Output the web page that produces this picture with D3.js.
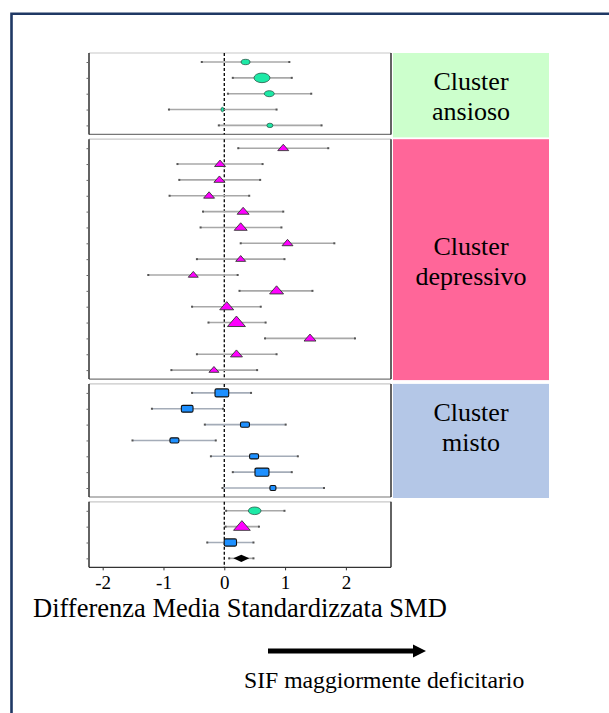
<!DOCTYPE html>
<html><head><meta charset="utf-8">
<script src="https://cdn.jsdelivr.net/npm/d3@7"></script>
<style>html,body{margin:0;padding:0;background:#fff;} svg{display:block}</style>
</head><body><svg id="c" width="609" height="713"></svg>
<script>
// ---------- DATA ----------
const clusterNames = ["Cluster ansioso", "Cluster depressivo", "Cluster misto", "Complessivo"];
const clusterLabels = [["Cluster", "ansioso"], ["Cluster", "depressivo"], ["Cluster", "misto"]];
const clusterColors = ["#ccffcc", "#ff6699", "#b4c7e7"];

const ansiosoSMD    = [0.35, 0.62, 0.74, -0.03, 0.75];
const ansiosoLow    = [-0.37, 0.14, 0.06, -0.91, -0.09];
const ansiosoHigh   = [1.07, 1.11, 1.43, 0.86, 1.60];
const ansiosoWeight = [20, 64, 25, 2, 9];

const depressivoSMD    = [0.97, -0.07, -0.08, -0.25, 0.31, 0.27, 1.04, 0.27, -0.51, 0.86, 0.04, 0.20, 1.41, 0.20, -0.17];
const depressivoLow    = [0.23, -0.77, -0.74, -0.90, -0.35, -0.39, 0.27, -0.45, -1.25, 0.25, -0.53, -0.26, 0.67, -0.45, -0.87];
const depressivoHigh   = [1.71, 0.63, 0.59, 0.41, 0.97, 0.94, 1.81, 0.99, 0.22, 1.45, 0.60, 0.68, 2.15, 0.86, 0.54];
const depressivoWeight = [30, 30, 30, 30, 36, 42, 30, 25, 25, 49, 49, 81, 36, 36, 25];

const mistoSMD    = [-0.04, -0.61, 0.34, -0.82, 0.49, 0.62, 0.80];
const mistoLow    = [-0.53, -1.19, -0.32, -1.51, -0.22, 0.14, -0.03];
const mistoHigh   = [0.44, -0.02, 1.01, -0.14, 1.21, 1.11, 1.64];
const mistoWeight = [47, 34, 20, 20, 20, 49, 9];

const pooledSMD    = [0.50, 0.29, 0.10, 0.28];
const pooledLow    = [0.03, 0.02, -0.28, 0.08];
const pooledHigh   = [0.99, 0.57, 0.48, 0.48];
const pooledWeight = [40, 70, 38, 64];
const pooledShape  = ["ellipse", "triangle", "rect", "diamond"];

const xTicks = [-2, -1, 0, 1, 2];
const xTitle = "Differenza Media Standardizzata SMD";
const arrowLabel = "SIF maggiormente deficitario";

// ---------- BUILD ----------
function rows(smd, lo, hi, w, shape) {
  return smd.map((v, i) => ({ smd: v, lo: lo[i], hi: hi[i], w: w[i],
    shape: Array.isArray(shape) ? shape[i] : shape }));
}
const panels = [
  { name: clusterNames[0], rows: rows(ansiosoSMD, ansiosoLow, ansiosoHigh, ansiosoWeight, "ellipse") },
  { name: clusterNames[1], rows: rows(depressivoSMD, depressivoLow, depressivoHigh, depressivoWeight, "triangle") },
  { name: clusterNames[2], rows: rows(mistoSMD, mistoLow, mistoHigh, mistoWeight, "rect") },
  { name: clusterNames[3], rows: rows(pooledSMD, pooledLow, pooledHigh, pooledWeight, pooledShape) }
];
const fills = { ellipse: "#1de9a6", triangle: "#ff00ff", rect: "#1e90ff", diamond: "#000000" };

const svg = d3.select("#c");
const SERIF = "'Liberation Serif','Times New Roman',serif";

// outer frame
svg.append("path").attr("d", "M11.5,713 V13.7 H609")
  .attr("fill", "none").attr("stroke", "#1f3864").attr("stroke-width", 2.6);

const x = d3.scaleLinear().domain([-2.225, 2.742]).range([89, 391]);
const size = d3.scaleSqrt().domain([0, 100]).range([0, 20]);

const step = 15.85, pad = 9, gap = 4.8;
let curTop = 53;
panels.forEach(p => {
  p.top = curTop;
  p.bottom = curTop + 2 * pad + (p.rows.length - 1) * step;
  p.y = d3.scaleLinear().domain([0, p.rows.length - 1]).range([curTop + pad, p.bottom - pad]);
  curTop = p.bottom + gap;
});

panels.forEach((p, pi) => {
  const g = svg.append("g");
  g.append("rect").attr("x", x.range()[0]).attr("y", p.top)
    .attr("width", x.range()[1] - x.range()[0]).attr("height", p.bottom - p.top)
    .attr("fill", "#fff");
  g.append("line").attr("x1", 89).attr("x2", 391).attr("y1", p.top).attr("y2", p.top)
    .attr("stroke", "#c8c8c8").attr("stroke-width", 1.2);
  g.append("line").attr("x1", 89).attr("x2", 391).attr("y1", p.bottom).attr("y2", p.bottom)
    .attr("stroke", pi === panels.length - 1 ? "#333" : "#777").attr("stroke-width", 1.2);
  [89, 391].forEach(xx => g.append("line").attr("x1", xx).attr("x2", xx)
    .attr("y1", p.top).attr("y2", p.bottom).attr("stroke", "#222").attr("stroke-width", 1.4));

  const ya = d3.axisLeft(p.y).tickValues(d3.range(p.rows.length)).tickSize(2.5).tickFormat("");
  const ag = g.append("g").attr("transform", "translate(89,0)").call(ya);
  ag.select(".domain").remove();
  ag.selectAll(".tick line").attr("stroke", "#666").attr("stroke-width", 1);

  g.append("line").attr("x1", x(0)).attr("x2", x(0)).attr("y1", p.top).attr("y2", p.bottom)
    .attr("stroke", "#000").attr("stroke-width", 1.3).attr("stroke-dasharray", "3,2");

  p.rows.forEach((r, i) => {
    const yy = p.y(i);
    g.append("line").attr("x1", x(r.lo)).attr("x2", x(r.hi)).attr("y1", yy).attr("y2", yy)
      .attr("stroke", r.shape === "rect" ? "#a4acb8" : "#a8a8a8").attr("stroke-width", 1.6);
    [r.lo, r.hi].forEach(v => g.append("rect").attr("x", x(v) - 1).attr("y", yy - 1)
      .attr("width", 2).attr("height", 2).attr("fill", "#555"));
  });

  p.rows.forEach((r, i) => {
    const cx = x(r.smd), cy = p.y(i), w = size(r.w);
    const col = fills[r.shape];
    if (r.shape === "ellipse") {
      g.append("ellipse").attr("cx", cx).attr("cy", cy).attr("rx", w / 2)
        .attr("ry", Math.max(2.2, w * 0.3)).attr("fill", col).attr("stroke", "#2a5a4a").attr("stroke-width", 0.8);
    } else if (r.shape === "triangle") {
      const h = w * 0.58;
      g.append("path").attr("d", `M${cx},${cy - h * 0.62} L${cx - w / 2},${cy + h * 0.38} L${cx + w / 2},${cy + h * 0.38} Z`)
        .attr("fill", col).attr("stroke", "#333").attr("stroke-width", 0.9);
    } else if (r.shape === "rect") {
      const h = Math.max(5, w * 0.58);
      g.append("rect").attr("x", cx - w / 2).attr("y", cy - h / 2).attr("width", w).attr("height", h)
        .attr("rx", 1.5).attr("fill", col).attr("stroke", "#111").attr("stroke-width", 1.1);
    } else {
      const h = w * 0.45;
      g.append("path").attr("d", `M${cx - w / 2},${cy} L${cx},${cy - h / 2} L${cx + w / 2},${cy} L${cx},${cy + h / 2} Z`)
        .attr("fill", col);
    }
  });

  if (pi < 3) {
    const bTop = p.top, bBot = pi === 0 ? p.bottom + 3 : p.bottom + 1;
    svg.append("rect").attr("x", 393).attr("y", bTop).attr("width", 156).attr("height", bBot - bTop)
      .attr("fill", clusterColors[pi]);
    const lines = clusterLabels[pi];
    const firstBase = pi === 0 ? 89.5 : pi === 1 ? 255 : 420.5;
    lines.forEach((t, li) => svg.append("text").attr("x", 471).attr("y", firstBase + li * 30)
      .attr("text-anchor", "middle").attr("font-family", SERIF).attr("font-size", 26)
      .attr("fill", "#000").text(t));
  }
});

const last = panels[panels.length - 1];
const xa = d3.axisBottom(x).tickValues(xTicks).tickSize(3).tickPadding(5).tickFormat(d3.format("d"));
const xg = svg.append("g").attr("transform", `translate(0,${last.bottom})`).call(xa);
xg.select(".domain").remove();
xg.selectAll(".tick line").attr("stroke", "#333");
xg.selectAll(".tick text").attr("font-family", SERIF).attr("font-size", 19).attr("fill", "#000")
  .text(d => d < 0 ? "-" + Math.abs(d) : d);

svg.append("text").attr("x", 33).attr("y", 617).attr("font-family", SERIF).attr("font-size", 26.5)
  .attr("fill", "#000").text(xTitle);

svg.append("line").attr("x1", 268).attr("x2", 415).attr("y1", 651).attr("y2", 651)
  .attr("stroke", "#000").attr("stroke-width", 5);
svg.append("path").attr("d", "M413,644.5 L426,651 L413,657.5 Z").attr("fill", "#000");
svg.append("text").attr("x", 244).attr("y", 688).attr("font-family", SERIF).attr("font-size", 23.7)
  .attr("fill", "#000").text(arrowLabel);
</script></body></html>
